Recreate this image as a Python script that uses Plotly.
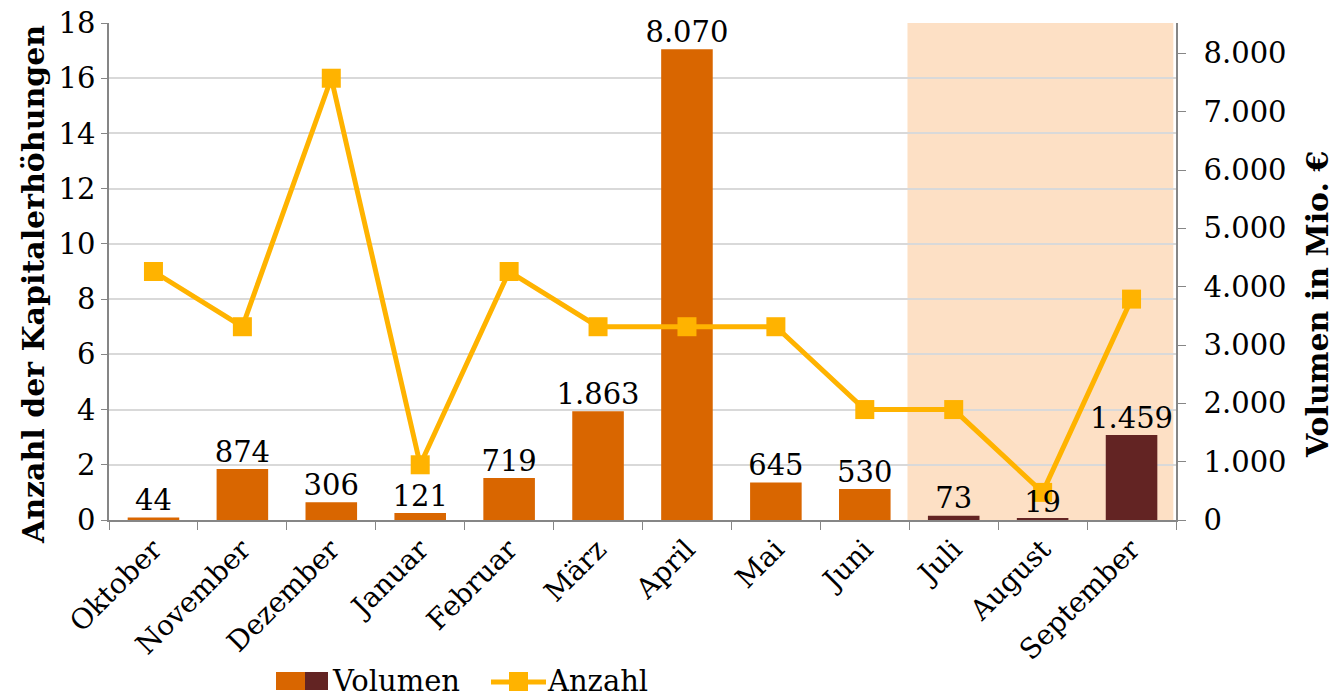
import plotly.graph_objects as go

months = ["Oktober", "November", "Dezember", "Januar", "Februar", "März", "April",
          "Mai", "Juni", "Juli", "August", "September"]
volumen = [44, 874, 306, 121, 719, 1863, 8070, 645, 530, 73, 19, 1459]
anzahl = [9, 7, 16, 2, 9, 7, 7, 7, 4, 4, 1, 8]
highlight_months = ["Juli", "August", "September"]

ORANGE = "#D96600"
DARK = "#632423"
GOLD = "#FFB300"
SHADE = "#FDE0C5"
FONT = "DejaVu Serif"
FS_NUM = 29
FS_CAT = 28
FS_TITLE = 30

bar_colors = [DARK if m in highlight_months else ORANGE for m in months]

# page body has an 8px margin: figure is drawn at (8, 8)
OFF = 8
W, H = 1338 - 2 * OFF, 694 - OFF
L, T = 109 - OFF, 23 - OFF
R = W - (1176 - OFF)
B = H - (520 - OFF)
PW, PH = W - L - R, H - T - B

fig = go.Figure()
fig.add_trace(go.Bar(x=months, y=volumen, marker=dict(color=bar_colors, line_width=0),
                     width=0.58, yaxis="y", name="Volumen", showlegend=False))
fig.add_trace(go.Scatter(x=months, y=anzahl, mode="lines+markers", yaxis="y2",
                         line=dict(color=GOLD, width=5),
                         marker=dict(symbol="square", size=19, color=GOLD),
                         name="Anzahl", showlegend=False))
fig.add_trace(go.Scatter(x=months, y=volumen, mode="text", yaxis="y3",
                         texttemplate="%{y:,.0f}", textposition="top center",
                         textfont=dict(family=FONT, size=FS_NUM, color="black"),
                         cliponaxis=False, showlegend=False, hoverinfo="skip"))

vmax = 8520
i0 = months.index(highlight_months[0])
i1 = months.index(highlight_months[-1])
shapes = [dict(type="rect", xref="x", yref="paper", x0=i0 - 0.52, x1=i1 + 0.47, y0=0, y1=1,
               fillcolor=SHADE, line_width=0, layer="below")]


def px(x):
    return (x - OFF - L) / PW


def py(y):
    return (H - B - (y - OFF)) / PH


num_font = dict(family=FONT, size=FS_NUM, color="black")
cat_font = dict(family=FONT, size=FS_CAT, color="black")
title_font = dict(family=FONT, size=FS_TITLE, color="black", weight="bold")

# legend (manual, to show the two-colour bar swatch)
shapes += [
    dict(type="rect", xref="paper", yref="paper", x0=px(276), x1=px(305), y0=py(690), y1=py(672),
         fillcolor=ORANGE, line_width=0),
    dict(type="rect", xref="paper", yref="paper", x0=px(305), x1=px(328), y0=py(690), y1=py(672),
         fillcolor=DARK, line_width=0),
    dict(type="line", xref="paper", yref="paper", x0=px(491), x1=px(546), y0=py(682), y1=py(682),
         line=dict(color=GOLD, width=5)),
    dict(type="rect", xref="paper", yref="paper", x0=px(509), x1=px(528), y0=py(691), y1=py(672),
         fillcolor=GOLD, line_width=0),
]
annotations = [
    dict(text="Volumen", xref="paper", yref="paper", x=px(330), y=py(681), xanchor="left",
         yanchor="middle", showarrow=False, font=num_font),
    dict(text="Anzahl", xref="paper", yref="paper", x=px(545), y=py(681), xanchor="left",
         yanchor="middle", showarrow=False, font=num_font),
    dict(text="Anzahl der Kapitalerhöhungen", xref="paper", yref="paper", x=px(33), y=py(285),
         xanchor="center", yanchor="middle", textangle=-90, showarrow=False, font=title_font),
    dict(text="Volumen in Mio. €", xref="paper", yref="paper", x=px(1318), y=py(305),
         xanchor="center", yanchor="middle", textangle=-90, showarrow=False, font=title_font),
]

fig.update_layout(
    width=W, height=H,
    margin=dict(l=L, r=R, t=T, b=B, autoexpand=False),
    paper_bgcolor="white", plot_bgcolor="rgba(0,0,0,0)",
    separators=",.",
    showlegend=False,
    shapes=shapes,
    annotations=annotations,
    xaxis=dict(type="category", tickson="boundaries", ticks="outside", ticklen=8,
               tickcolor="#868686", showline=True, linecolor="#868686", linewidth=1.5,
               tickangle=-45, tickfont=cat_font, showgrid=False, range=[-0.5, 11.5]),
    yaxis=dict(range=[0, vmax], side="right", dtick=1000, tickformat=",d", showgrid=False,
               showline=True, linecolor="#868686", linewidth=1.5, ticks="outside", ticklen=8,
               tickcolor="#868686", tickfont=num_font, ticklabelstandoff=12,
               ticklabeloverflow="allow", zeroline=False),
    yaxis2=dict(range=[0, 18], dtick=2, overlaying="y", side="left", showgrid=True,
                gridcolor="#D9D9D9", gridwidth=1.5, showline=True, linecolor="#868686",
                linewidth=1.5, ticks="outside", ticklen=6, tickcolor="#868686",
                tickfont=num_font, zeroline=False, ticklabeloverflow="allow"),
    yaxis3=dict(range=[0, vmax], overlaying="y", visible=False),
)

fig.write_html("out.html")
